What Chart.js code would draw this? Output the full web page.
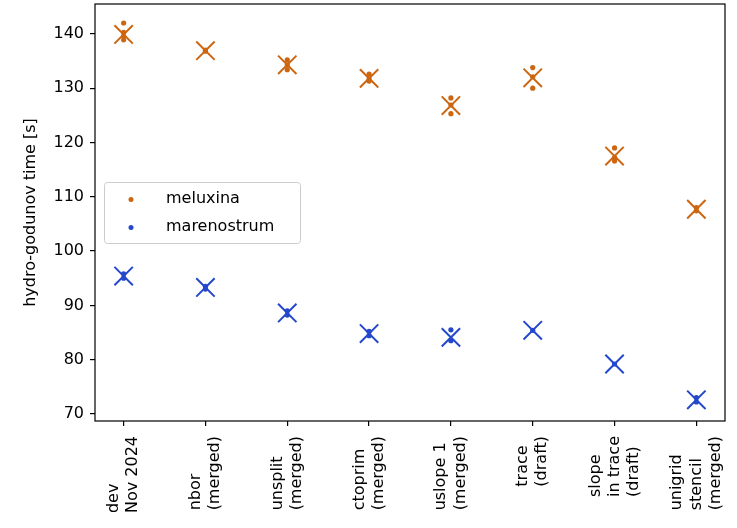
<!DOCTYPE html>
<html>
<head>
<meta charset="utf-8">
<script src="https://cdn.jsdelivr.net/npm/chart.js@4.4.1/dist/chart.umd.min.js"></script>
<style>
  body { margin: 0; background: #fff; }
  canvas { display: block; }
</style>
</head>
<body>
<canvas id="chart" width="737" height="528"></canvas>
<script>
// categories (one entry per branch, lines of the tick label)
const categories = [
    ['dev', 'Nov 2024'],
    ['nbor', '(merged)'],
    ['unsplit', '(merged)'],
    ['ctoprim', '(merged)'],
    ['uslope 1', '(merged)'],
    ['trace', '(draft)'],
    ['slope', 'in trace', '(draft)'],
    ['unigrid', 'stencil', '(merged)']
];

// single runs, seconds
const meluxinaRuns = [
    [142.0, 140.3, 139.6, 138.9],
    [137.0, 136.8],
    [135.2, 134.3, 133.4],
    [132.6, 131.7, 131.3],
    [128.2, 126.9, 125.3],
    [133.8, 132.1, 130.0],
    [119.0, 117.2, 116.6],
    [108.0, 107.4]
];
const marenostrumRuns = [
    [95.8, 95.0],
    [93.5, 93.0],
    [89.0, 88.2],
    [85.2, 84.4],
    [85.5, 83.5],
    [85.4],
    [79.2],
    [73.0, 72.2]
];

// averages (the big crosses)
const meluxinaMean = [139.9, 136.9, 134.3, 131.8, 126.8, 131.9, 117.5, 107.7];
const marenostrumMean = [95.4, 93.3, 88.6, 84.8, 84.1, 85.4, 79.2, 72.6];

const yTicks = [70, 80, 90, 100, 110, 120, 130, 140];

const orange = '#cc6611';
const blue = '#2447cc';
const font = '"DejaVu Sans", sans-serif';

const runPoints = (runs) => runs.flatMap((vals, i) => vals.map(v => ({x: i, y: v})));
const meanPoints = (means) => means.map((v, i) => ({x: i, y: v}));

// matplotlib style box around the plot
const frame = {
    id: 'frame',
    afterDraw(chart) {
        const {ctx, chartArea: a} = chart;
        ctx.save();
        ctx.strokeStyle = '#000';
        ctx.lineWidth = 1.2;
        ctx.strokeRect(a.left, a.top, a.right - a.left, a.bottom - a.top);
        ctx.restore();
    }
};

// rotated multi line x labels, lines start-aligned like matplotlib
const tickLabels = {
    id: 'tickLabels',
    afterDraw(chart) {
        const {ctx, chartArea, scales: {x}} = chart;
        ctx.save();
        ctx.font = '16px ' + font;
        ctx.fillStyle = '#000';
        ctx.textBaseline = 'middle';
        ctx.textAlign = 'left';
        categories.forEach((lines, i) => {
            const px = x.getPixelForValue(i);
            const w = Math.max(...lines.map(l => ctx.measureText(l).width));
            ctx.save();
            ctx.translate(px, chartArea.bottom + 15);
            ctx.rotate(-Math.PI / 2);
            lines.forEach((l, j) => {
                ctx.fillText(l, -w, (j - (lines.length - 1) / 2) * 19.2);
            });
            ctx.restore();
        });
        ctx.restore();
    }
};

// legend box, centre left of the plot
const legendBox = {
    id: 'legendBox',
    afterDraw(chart) {
        const {ctx, chartArea: a} = chart;
        const items = [['meluxina', orange], ['marenostrum', blue]];
        const left = a.left + 9;
        const mid = (a.top + a.bottom) / 2;
        const w = 196, h = 61;
        const top = mid - h / 2;
        ctx.save();
        ctx.fillStyle = 'rgba(255,255,255,0.8)';
        ctx.strokeStyle = '#cccccc';
        ctx.lineWidth = 1;
        ctx.beginPath();
        ctx.roundRect(left + 0.5, top + 0.5, w, h, 3);
        ctx.fill();
        ctx.stroke();
        ctx.font = '16px ' + font;
        ctx.textBaseline = 'middle';
        items.forEach(([label, color], i) => {
            const y = mid + (i - 0.5) * 28;
            ctx.fillStyle = color;
            ctx.beginPath();
            ctx.arc(left + 27, y + 1, 2.5, 0, Math.PI * 2);
            ctx.fill();
            ctx.fillStyle = '#000';
            ctx.fillText(label, left + 62, y);
        });
        ctx.restore();
    }
};

const ctx = document.getElementById('chart').getContext('2d');
new Chart(ctx, {
    type: 'scatter',
    data: {
        datasets: [
            {
                label: 'meluxina',
                data: runPoints(meluxinaRuns),
                backgroundColor: orange,
                borderColor: orange,
                pointRadius: 2.6,
                borderWidth: 0
            },
            {
                label: 'marenostrum',
                data: runPoints(marenostrumRuns),
                backgroundColor: blue,
                borderColor: blue,
                pointRadius: 2.6,
                borderWidth: 0
            },
            {
                label: 'meluxina mean',
                data: meanPoints(meluxinaMean),
                pointStyle: 'crossRot',
                borderColor: orange,
                pointRadius: 13,
                borderWidth: 2
            },
            {
                label: 'marenostrum mean',
                data: meanPoints(marenostrumMean),
                pointStyle: 'crossRot',
                borderColor: blue,
                pointRadius: 13,
                borderWidth: 2
            }
        ]
    },
    options: {
        responsive: false,
        animation: false,
        events: [],
        layout: {
            autoPadding: false,
            padding: {left: 0, right: 12, top: 4, bottom: 0}
        },
        plugins: {
            legend: {display: false},
            tooltip: {enabled: false}
        },
        scales: {
            x: {
                type: 'linear',
                min: -0.35,
                max: 7.35,
                afterBuildTicks: (axis) => {
                    axis.ticks = categories.map((c, i) => ({value: i}));
                },
                afterFit: (scale) => {
                    scale.height = 107;
                    scale.paddingLeft = 0;
                    scale.paddingRight = 0;
                },
                ticks: {display: false},
                border: {display: false},
                grid: {
                    drawOnChartArea: false,
                    drawTicks: true,
                    tickLength: 5,
                    color: '#000',
                    lineWidth: 1.2
                }
            },
            y: {
                min: 68.7,
                max: 145.5,
                afterBuildTicks: (axis) => {
                    axis.ticks = yTicks.map(v => ({value: v}));
                },
                afterFit: (scale) => {
                    scale.width = 95;
                    scale.paddingTop = 0;
                    scale.paddingBottom = 0;
                },
                ticks: {
                    color: '#000',
                    padding: 6,
                    font: {family: font, size: 16}
                },
                border: {display: false},
                grid: {
                    drawOnChartArea: false,
                    drawTicks: true,
                    tickLength: 5,
                    color: '#000',
                    lineWidth: 1.2
                },
                title: {
                    display: true,
                    text: 'hydro-godunov time [s]',
                    color: '#000',
                    font: {family: font, size: 16},
                    padding: {top: 21, bottom: 0}
                }
            }
        }
    },
    plugins: [frame, tickLabels, legendBox]
});
</script>
</body>
</html>
